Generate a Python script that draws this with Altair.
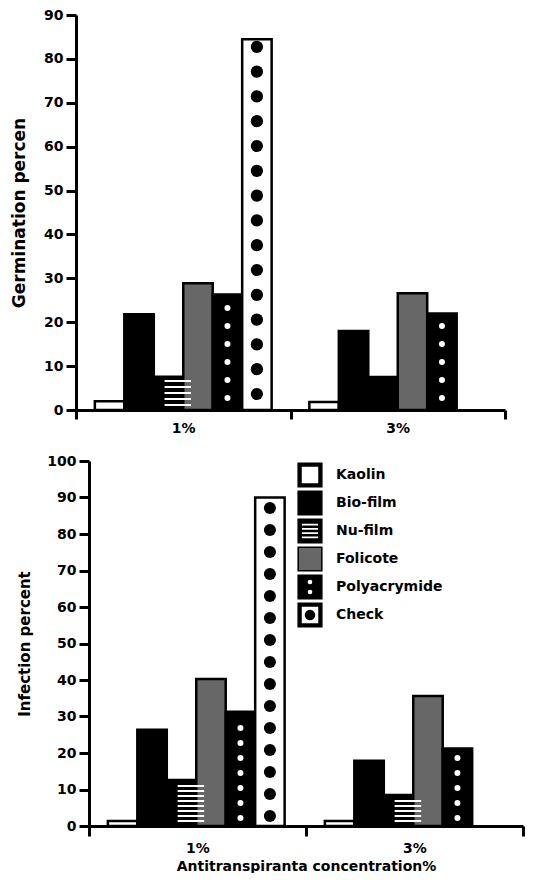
import altair as alt
import pandas as pd

# ---------------- data ----------------
agents = ["Kaolin", "Bio-film", "Nu-film", "Folicote", "Polyacrymide", "Check"]
concs = ["1%", "3%"]

germ_1 = [2.0, 21.8, 7.6, 28.9, 26.3, 84.5]
germ_3 = [1.8, 18.0, 7.5, 26.6, 22.0, None]
inf_1 = [1.4, 26.4, 12.6, 40.3, 31.3, 90.0]
inf_3 = [1.4, 17.9, 8.5, 35.6, 21.2, None]

bar_fill = ["#ffffff", "#000000", "#000000", "#676767", "#000000", "#ffffff"]
legend_fill = ["#000000", "#000000", "#000000", "#676767", "#000000", "#000000"]

FONT = "DejaVu Sans"


def hole_rect(a, y0, y1):
    return f"M{-a},{y0}V{y1}H{a}V{y0}Z"


def circle(cx, cy, r, sweep):
    return (f"M{cx - r},{cy}a{r} {r} 0 1 {sweep} {2 * r} 0"
            f"a{r} {r} 0 1 {sweep} {-2 * r} 0Z")


SQ = "M-1,-1H1V1H-1Z"
legend_paths = [
    SQ + hole_rect(0.76, -0.76, 0.76),
    SQ,
    SQ + "".join(hole_rect(0.74, c - 0.13, c + 0.13) for c in [-0.54, -0.18, 0.18, 0.54]),
    SQ,
    SQ + circle(0, -0.42, 0.26, 0) + circle(0, 0.42, 0.26, 0),
    SQ + hole_rect(0.76, -0.76, 0.76) + circle(0, 0, 0.38, 1),
]

# bar colour scale keyed on the alphabetical order (kept distinct from the legend scales)
bar_domain = sorted(agents)
bar_range = [bar_fill[agents.index(a)] for a in bar_domain]


def bars_df(v1, v3):
    rows = []
    for conc, vals in zip(concs, [v1, v3]):
        for a, v in zip(agents, vals):
            if v is not None:
                rows.append({"conc": conc, "agent": a, "value": v})
    return pd.DataFrame(rows)


def stripes_df(df, ymax, h, striped, start, step, thick):
    u = ymax / h
    rows = []
    for r in df.itertuples():
        if r.agent != "Nu-film" or r.conc not in striped:
            continue
        top = r.value / u
        p = start
        while p + thick <= top - 2:
            rows.append({"conc": r.conc, "agent": r.agent, "y0": p * u, "y1": (p + thick) * u})
            p += step
    return pd.DataFrame(rows, columns=["conc", "agent", "y0", "y1"])


def dots_df(df, agent, ymax, h, start, step, margin):
    u = ymax / h
    rows = []
    for r in df.itertuples():
        if r.agent != agent:
            continue
        top = r.value / u
        p = start
        while p <= top - margin:
            rows.append({"conc": r.conc, "agent": r.agent, "yd": p * u})
            p += step
    return pd.DataFrame(rows, columns=["conc", "agent", "yd"])


def panel(v1, v3, ymax, h, w, shift, po, ytitle, ytsize, extent, tpad, xtitle,
          xtick, xlabpad, striped, stripe_step, check_start, check_step,
          check_size, poly_start, poly_step, poly_margin, legend=False):
    df = bars_df(v1, v3)
    xscale = alt.Scale(domain=concs, paddingInner=0, paddingOuter=0, range=[-shift, w])
    oscale = alt.Scale(domain=agents, paddingInner=0, paddingOuter=po)
    yscale = alt.Scale(domain=[0, ymax], nice=False, zero=True)
    xkw = dict(
        tickBand="extent", labelAngle=0, tickSize=xtick,
        tickWidth=3, domainWidth=3, labelPadding=xlabpad, labelFontSize=14,
        labelFontWeight="bold",
    )
    if xtitle:
        xaxis = alt.Axis(title=xtitle, titleFontSize=14, titleFontWeight="bold",
                         titlePadding=4, **xkw)
    else:
        xaxis = alt.Axis(title=None, **xkw)
    yaxis = alt.Axis(
        title=ytitle, values=list(range(0, ymax + 1, 10)), tickSize=10,
        tickWidth=3, domainWidth=3, labelPadding=3, labelFontSize=14,
        labelFontWeight="bold", titleFontSize=ytsize, titleFontWeight="bold",
        titlePadding=tpad, minExtent=extent, maxExtent=extent, grid=False,
        offset=shift,
    )
    X = alt.X("conc:N", scale=xscale, axis=xaxis)
    XO = alt.XOffset("agent:N", scale=oscale)

    def Y(field):
        return alt.Y(field, scale=yscale, axis=yaxis)

    bars = alt.Chart(df).mark_bar(stroke="black", strokeWidth=2.5).encode(
        x=X, xOffset=XO, y=Y("value:Q"),
        color=alt.Color("agent:N", scale=alt.Scale(domain=bar_domain, range=bar_range), legend=None),
    )
    stripes = alt.Chart(stripes_df(df, ymax, h, striped, 4, stripe_step, 2)).mark_bar(
        fill="white", strokeWidth=0, width=alt.RelativeBandSize(0.9)
    ).encode(x=X, xOffset=XO, y=Y("y0:Q"), y2="y1:Q")
    poly = alt.Chart(dots_df(df, "Polyacrymide", ymax, h, poly_start, poly_step, poly_margin)).mark_circle(
        color="white", opacity=1, size=36
    ).encode(x=X, xOffset=XO, y=Y("yd:Q"))
    check = alt.Chart(dots_df(df, "Check", ymax, h, check_start, check_step, 6)).mark_circle(
        color="black", opacity=1, size=check_size
    ).encode(x=X, xOffset=XO, y=Y("yd:Q"))

    layers = [bars, stripes, poly, check]
    if legend:
        leg = alt.Legend(
            title=None, orient="none", legendX=208, legendY=1, symbolSize=560,
            symbolStrokeColor="black", symbolStrokeWidth=1.5, symbolFillColor="black",
            symbolOpacity=1, labelFont=FONT, labelFontSize=14, labelFontWeight="bold",
            labelColor="black", labelOffset=13, rowPadding=-2.5, padding=0,
        )
        pts = alt.Chart(df).mark_point(filled=True, opacity=0, stroke="black", strokeWidth=1.5).encode(
            x=X, xOffset=XO, y=Y("value:Q"),
            fill=alt.Fill("agent:N", scale=alt.Scale(domain=agents, range=legend_fill), legend=leg),
            shape=alt.Shape("agent:N", scale=alt.Scale(domain=agents, range=legend_paths), legend=leg),
        )
        layers.append(pts)
    return alt.layer(*layers).properties(width=w, height=h)


# top panel: drawn 13px left of the shared origin (range shifted, axis offset)
top = panel(germ_1, germ_3, 90, 395, 416, 13, 0.64, "Germination percen", 17, 33, 15,
            None, 9, 2, ["1%"], 6, 16, 24.8, 150, 12, 18, 8)
bottom = panel(inf_1, inf_3, 100, 365, 434, 0, 0.79, "Infection percent", 15, 42, 15,
               "Antitranspiranta concentration%", 10, 5, ["1%", "3%"], 5, 10, 22, 145,
               8, 15, 9, legend=True)

chart = alt.vconcat(top, bottom, spacing=19).resolve_scale(
    fill="independent", shape="independent", color="independent"
).properties(
    padding={"left": 2, "top": 0, "right": 0, "bottom": 0}
).configure_view(stroke=None).configure_axis(
    labelColor="black", titleColor="black", domainColor="black", tickColor="black",
    labelFont=FONT, titleFont=FONT,
)

chart.save("out.html", embed_options={"renderer": "svg", "actions": False})
